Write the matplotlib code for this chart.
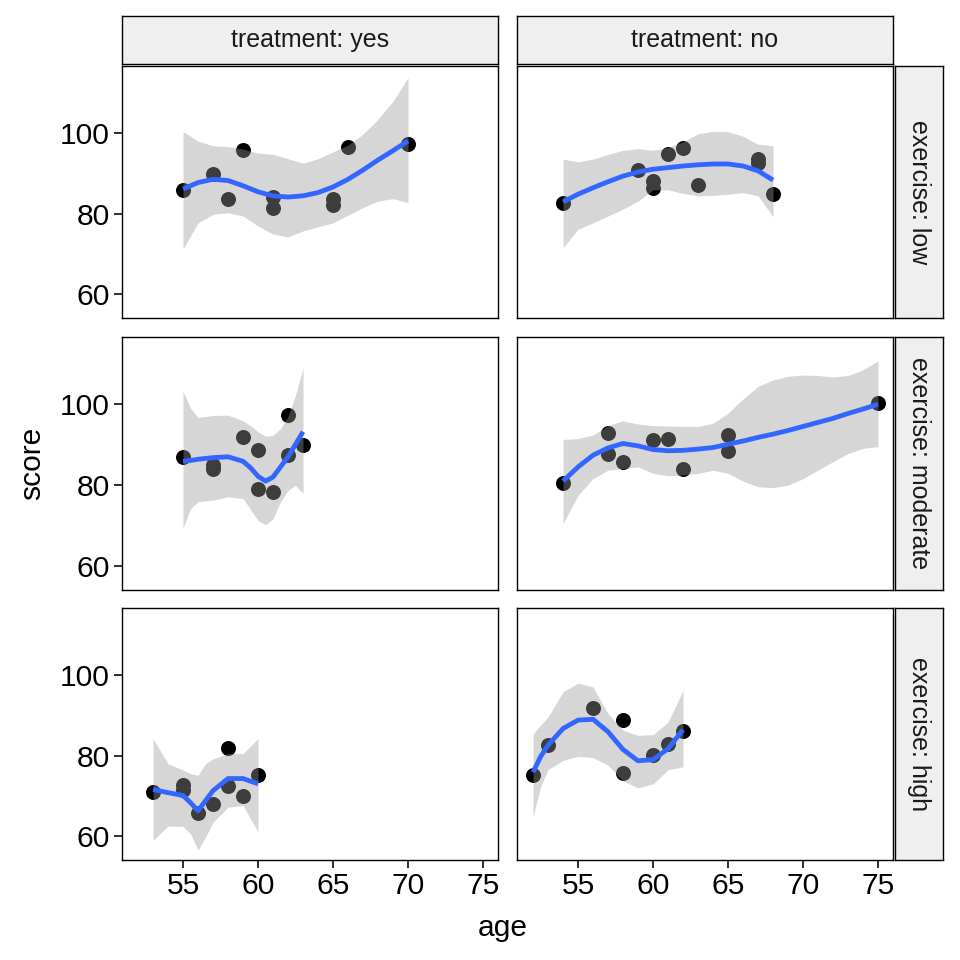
import numpy as np
import matplotlib
matplotlib.use("Agg")
import matplotlib.pyplot as plt

plt.rcParams['font.family'] = ['Liberation Sans', 'DejaVu Sans']

treatments = ["yes", "no"]
exercises = ["low", "moderate", "high"]

# raw points
age_yes_low = [55, 57, 58, 59, 61, 61, 65, 65, 66, 70]
score_yes_low = [85.9, 89.7, 83.5, 95.8, 84.1, 81.5, 83.7, 82.1, 96.6, 97.3]
age_no_low = [54, 59, 60, 60, 61, 62, 63, 67, 67, 68]
score_no_low = [82.6, 90.8, 88.1, 86.4, 94.7, 96.2, 87.1, 93.6, 92.5, 84.9]
age_yes_mod = [55, 57, 57, 59, 60, 60, 61, 62, 62, 63]
score_yes_mod = [86.9, 85.1, 83.9, 92.0, 88.7, 79.0, 78.3, 97.3, 87.4, 89.9]
age_no_mod = [54, 57, 57, 58, 60, 61, 62, 65, 65, 75]
score_no_mod = [80.6, 93.0, 87.8, 85.8, 91.1, 91.4, 84.1, 92.4, 88.4, 100.2]
age_yes_high = [53, 55, 55, 56, 57, 58, 58, 59, 60]
score_yes_high = [71.0, 72.6, 71.4, 65.8, 68.1, 81.9, 72.4, 70.0, 75.1]
age_no_high = [52, 53, 56, 58, 58, 60, 61, 62]
score_no_high = [75.3, 82.6, 91.9, 88.8, 75.8, 80.2, 82.8, 86.0]

# loess fit and its band
fx_yes_low = [55, 56, 57, 58, 59, 60, 61, 62, 63, 64, 65, 66, 67, 68, 69, 70]
fy_yes_low = [86.1, 87.7, 88.5, 88.2, 86.9, 85.4, 84.4, 84.1, 84.4, 85.2, 86.6, 88.5, 90.8, 93.3, 95.6, 98.0]
hi_yes_low = [100.3, 98.0, 96.8, 96.6, 96.0, 95.0, 94.7, 93.6, 92.5, 93.6, 95.3, 97.0, 99.7, 103.4, 107.9, 113.7]
lo_yes_low = [71.3, 77.7, 79.8, 80.2, 79.4, 76.9, 74.9, 74.2, 75.7, 76.7, 77.7, 79.6, 81.5, 83.1, 83.7, 82.7]

fx_no_low = [54, 55, 56, 57, 58, 59, 60, 61, 62, 63, 64, 65, 66, 67, 68]
fy_no_low = [82.9, 84.8, 86.4, 87.9, 89.3, 90.3, 91.0, 91.4, 91.8, 92.1, 92.3, 92.3, 91.8, 90.6, 88.3]
hi_no_low = [93.5, 92.8, 93.5, 94.7, 95.7, 96.1, 95.7, 96.4, 97.8, 99.8, 100.4, 100.3, 99.2, 97.2, 96.8]
lo_no_low = [71.5, 76.1, 77.7, 79.4, 81.1, 83.1, 85.9, 85.9, 85.0, 84.4, 84.5, 84.8, 85.2, 84.4, 79.2]

fx_yes_mod = [55, 55.5, 56, 57, 58, 59, 59.5, 60, 60.5, 61, 61.5, 62, 62.5, 63]
fy_yes_mod = [85.9, 86.1, 86.4, 86.8, 87.0, 85.9, 84.3, 82.2, 81.0, 82.0, 84.5, 87.0, 90.1, 93.2]
hi_yes_mod = [103.2, 99.0, 96.7, 97.2, 97.3, 95.9, 94.7, 93.2, 92.1, 92.3, 94.0, 97.0, 102.3, 108.9]
lo_yes_mod = [69.4, 74.2, 75.9, 76.3, 77.1, 76.7, 74.0, 71.3, 70.2, 71.7, 75.9, 78.7, 80.0, 77.9]

fx_no_mod = list(range(54, 76))
fy_no_mod = [81.0, 84.5, 87.4, 89.2, 90.3, 89.7, 88.8, 88.5, 88.6, 88.9, 89.3, 90.1, 90.9, 91.8, 92.6, 93.5, 94.5, 95.5, 96.5, 97.7, 98.8, 100.0]
hi_no_mod = [91.3, 91.5, 92.4, 94.7, 95.9, 95.1, 94.7, 94.6, 94.5, 94.5, 95.3, 97.8, 101.3, 104.4, 106.0, 106.9, 107.2, 107.1, 106.7, 107.1, 108.5, 110.7]
lo_no_mod = [70.5, 77.5, 81.6, 83.7, 84.1, 84.5, 82.9, 82.3, 82.5, 82.9, 83.7, 82.9, 81.0, 79.6, 79.4, 80.0, 81.6, 83.7, 85.8, 87.8, 89.1, 89.5]

fx_yes_high = [53, 54, 55, 55.5, 56, 56.5, 57, 58, 59, 60]
fy_yes_high = [71.6, 70.8, 70.1, 68.3, 66.3, 68.8, 71.3, 74.3, 74.3, 73.0]
hi_yes_high = [84.2, 78.0, 76.4, 75.5, 75.1, 78.0, 79.2, 80.5, 80.5, 84.2]
lo_yes_high = [59.0, 62.5, 62.4, 60.6, 56.5, 59.8, 63.5, 67.2, 67.6, 61.0]

fx_no_high = [52, 52.5, 53, 54, 55, 56, 57, 58, 59, 60, 61, 62]
fy_no_high = [75.9, 79.7, 82.6, 86.7, 88.8, 89.0, 85.9, 81.5, 78.7, 79.0, 81.7, 86.4]
hi_no_high = [85.4, 87.5, 89.6, 95.8, 98.0, 97.0, 90.4, 86.3, 85.0, 85.2, 88.3, 96.2]
lo_no_high = [64.9, 72.2, 76.5, 78.8, 79.8, 79.5, 77.6, 73.7, 72.0, 73.0, 76.5, 77.2]

panels = {
    ("yes", "low"): (age_yes_low, score_yes_low, fx_yes_low, fy_yes_low, lo_yes_low, hi_yes_low),
    ("no", "low"): (age_no_low, score_no_low, fx_no_low, fy_no_low, lo_no_low, hi_no_low),
    ("yes", "moderate"): (age_yes_mod, score_yes_mod, fx_yes_mod, fy_yes_mod, lo_yes_mod, hi_yes_mod),
    ("no", "moderate"): (age_no_mod, score_no_mod, fx_no_mod, fy_no_mod, lo_no_mod, hi_no_mod),
    ("yes", "high"): (age_yes_high, score_yes_high, fx_yes_high, fy_yes_high, lo_yes_high, hi_yes_high),
    ("no", "high"): (age_no_high, score_no_high, fx_no_high, fy_no_high, lo_no_high, hi_no_high),
}

x_ticks = [55, 60, 65, 70, 75]
y_ticks = [60, 80, 100]

W = 960.0
fig = plt.figure(figsize=(W / 144, W / 144), dpi=144)

col_px = [(122, 498), (517, 893)]
row_px = [(66, 318), (337, 590), (608, 860)]

def fr(x0, y0, x1, y1):
    return [x0 / W, 1 - y1 / W, (x1 - x0) / W, (y1 - y0) / W]

strip_fc = "#EFEFEF"
for i, ex in enumerate(exercises):
    for j, tr in enumerate(treatments):
        ax = fig.add_axes(fr(col_px[j][0], row_px[i][0], col_px[j][1], row_px[i][1]))
        ages, scores, fx, fy, lo, hi = panels[(tr, ex)]
        ax.scatter(ages, scores, s=7.5 ** 2, color="black", zorder=2, linewidths=0)
        ax.fill_between(fx, lo, hi, color="#999999", alpha=0.4, linewidth=0, zorder=3)
        ax.plot(fx, fy, color="#3366FF", lw=2.4, zorder=4, solid_capstyle="butt")
        ax.set_xlim(50.93, 76.0)
        ax.set_ylim(54.1, 116.6)
        ax.set_xticks(x_ticks)
        ax.set_yticks(y_ticks)
        for sp in ax.spines.values():
            sp.set_linewidth(0.7)
            sp.set_color("black")
        ax.tick_params(length=4, width=0.8, color="black", labelsize=15, labelcolor="black", pad=2)
        if j > 0:
            ax.tick_params(axis="y", left=False, labelleft=False)
        if i < 2:
            ax.tick_params(axis="x", bottom=False, labelbottom=False)

        if i == 0:
            sx = fig.add_axes(fr(col_px[j][0], 16, col_px[j][1], 64))
            sx.set_xticks([]); sx.set_yticks([])
            sx.set_facecolor(strip_fc)
            for sp in sx.spines.values():
                sp.set_linewidth(0.7)
            sx.text(0.5, 0.5, "treatment: " + tr, ha="center", va="center",
                    fontsize=12.5, color="#1A1A1A", transform=sx.transAxes)
        if j == 1:
            sy = fig.add_axes(fr(895, row_px[i][0], 943, row_px[i][1]))
            sy.set_xticks([]); sy.set_yticks([])
            sy.set_facecolor(strip_fc)
            for sp in sy.spines.values():
                sp.set_linewidth(0.7)
            sy.text(0.5, 0.5, "exercise: " + ex, ha="center", va="center", rotation=-90,
                    fontsize=12.5, color="#1A1A1A", transform=sy.transAxes)

fig.text(503 / W, 1 - 928 / W, "age", ha="center", va="center", fontsize=15)
fig.text(32 / W, 1 - 463 / W, "score", ha="center", va="center", rotation=90, fontsize=15)

fig.savefig("out.png", dpi=144)
